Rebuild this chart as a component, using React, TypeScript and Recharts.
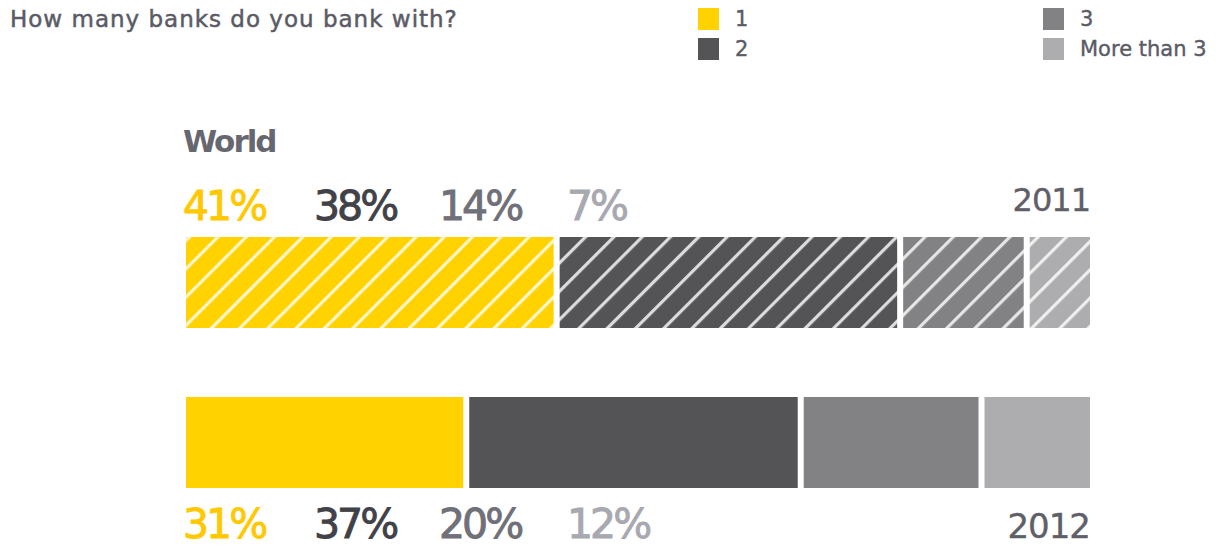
import React from "react";
import { BarChart, Bar, XAxis, YAxis, LabelList, Legend } from "recharts";

// survey answers, share of respondents (%)
const years = ["2011", "2012"];
const oneBank = [41, 31];
const twoBanks = [38, 37];
const threeBanks = [14, 20];
const moreThanThree = [7, 12];
const seriesNames = ["1", "2", "3", "More than 3"];
const seriesKeys = ["one", "two", "three", "more"];

const COLORS = ["#FFD200", "#545456", "#828284", "#ADADAF"];
const LABEL_COLORS = ["#FFC800", "#414148", "#707078", "#A8A8B0"];
const LABEL_X = [183, 314, 439, 567];
const GAP = 3;
const FONT = "'DejaVu Sans', Verdana, sans-serif";

const data = years.map((year, i) => ({
  year,
  one: oneBank[i],
  two: twoBanks[i],
  three: threeBanks[i],
  more: moreThanThree[i],
}));

const makeShape = (s: number) => (props: any) => {
  const { x, y, width, height, index } = props;
  const left = s > 0 ? GAP : 0;
  const right = s < 3 ? GAP : 0;
  const fill = index === 0 ? `url(#hatch${s})` : COLORS[s];
  return <rect x={x + left} y={y} width={Math.max(0, width - left - right)} height={height} fill={fill} />;
};

const makePctLabel = (s: number) => (props: any) => {
  const { y, height, value, index } = props;
  const ty = index === 0 ? y - 17 : y + height + 50;
  return (
    <g>
      {s === 0 && index === 0 && (
        <text x={183} y={y - 85} fill="#67676f" fontFamily={FONT} fontWeight="bold" fontSize={31} letterSpacing={-2}>
          World
        </text>
      )}
      <text
        x={LABEL_X[s]}
        y={ty}
        fill={LABEL_COLORS[s]}
        stroke={LABEL_COLORS[s]}
        strokeWidth={0.9}
        fontFamily={FONT}
        fontSize={41}
        letterSpacing={-3}
      >
        {`${value}%`}
      </text>
    </g>
  );
};

const renderYear = (props: any) => {
  const { x, y, width, height, value, index } = props;
  const ty = index === 0 ? y - 26 : y + height + 50;
  return (
    <text
      x={x + width}
      y={ty}
      textAnchor="end"
      fill="#5f5f68"
      stroke="#5f5f68"
      strokeWidth={0.4}
      fontFamily={FONT}
      fontSize={index === 0 ? 32 : 34}
      letterSpacing={-1}
    >
      {value}
    </text>
  );
};

const LEGEND_POS = [
  { left: 698, top: 7 },
  { left: 698, top: 37 },
  { left: 1043, top: 7 },
  { left: 1043, top: 37 },
];

const renderLegend = () => (
  <div style={{ position: "relative", height: 62 }}>
    {seriesNames.map((name, i) => (
      <div
        key={name}
        style={{
          position: "absolute",
          left: LEGEND_POS[i].left,
          top: LEGEND_POS[i].top,
          display: "flex",
          alignItems: "center",
          fontFamily: FONT,
          fontSize: 21,
          color: "#5b5b66",
          WebkitTextStroke: "0.4px #5b5b66",
          whiteSpace: "nowrap",
        }}
      >
        <span style={{ width: 21, height: 22, background: COLORS[i], display: "inline-block", marginRight: 16 }} />
        {name}
      </div>
    ))}
  </div>
);

export default function App() {
  return (
    <div style={{ position: "absolute", left: 0, top: 0, width: 1226, height: 548, background: "#fff" }}>
      <div
        style={{
          position: "absolute",
          left: 10,
          top: 6,
          fontFamily: FONT,
          fontSize: 23,
          letterSpacing: 1,
          color: "#5b5b66",
          WebkitTextStroke: "0.5px #5b5b66",
          whiteSpace: "nowrap",
        }}
      >
        How many banks do you bank with?
      </div>
      <BarChart
        width={1226}
        height={548}
        data={data}
        layout="vertical"
        margin={{ top: 202, right: 136, bottom: 26, left: 186 }}
      >
        <defs>
          {COLORS.map((c, i) => (
            <pattern
              key={i}
              id={`hatch${i}`}
              patternUnits="userSpaceOnUse"
              width={20}
              height={20}
              patternTransform="rotate(45)"
            >
              <rect width={20} height={20} fill={c} />
              <rect x={0} y={0} width={3.2} height={20} fill="#fff" fillOpacity={0.8} />
            </pattern>
          ))}
        </defs>
        <XAxis type="number" domain={[0, 100]} hide />
        <YAxis type="category" dataKey="year" hide />
        <Legend
          layout="horizontal"
          verticalAlign="middle"
          align="center"
          content={renderLegend}
          wrapperStyle={{ position: "absolute", top: 0, left: 0, width: 1226, height: 62 }}
        />
        {seriesKeys.map((k, s) => (
          <Bar
            key={k}
            dataKey={k}
            name={seriesNames[s]}
            stackId="a"
            barSize={91}
            fill={COLORS[s]}
            shape={makeShape(s)}
            isAnimationActive={false}
          >
            <LabelList dataKey={k} content={makePctLabel(s)} />
            {s === 3 && <LabelList dataKey="year" content={renderYear} />}
          </Bar>
        ))}
      </BarChart>
    </div>
  );
}
